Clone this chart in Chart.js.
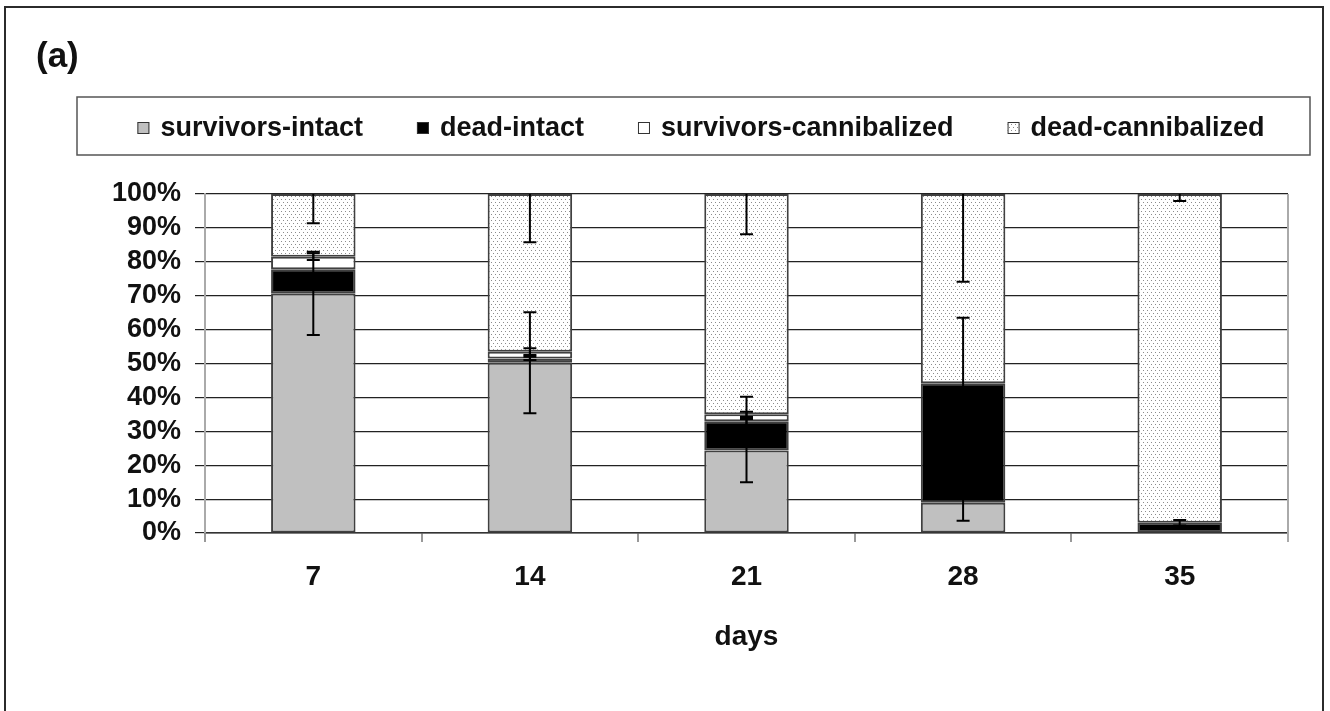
<!DOCTYPE html>
<html>
<head>
<meta charset="utf-8">
<script src="https://cdn.jsdelivr.net/npm/chart.js@4.4.1/dist/chart.umd.min.js"></script>
<style>
  html, body { margin: 0; padding: 0; background: #fff; }
  #wrap { width: 1330px; height: 711px; }
</style>
</head>
<body>
<div id="wrap"><canvas id="chart" width="1330" height="711"></canvas></div>
<script>
// values, % of individuals per day
const days = ['7', '14', '21', '28', '35'];
const survivorsIntact = [70.7, 50.2, 24.3, 8.9, 0];
const deadIntact = [7.1, 1.3, 8.7, 35.3, 3.0];
const survivorsCannibalized = [3.7, 2.0, 2.0, 0, 0];
const deadCannibalized = [18.5, 46.5, 65.0, 55.8, 97.0];

// error bar half-lengths (same units)
const survivorsIntactErr = [12.3, 14.9, 9.3, 5.3, 0];
const deadIntactErr = [0, 0.5, 7.2, 19.3, 0.8];
const survivorsCannibalizedErr = [1.0, 1.0, 0.8, 0, 0];
const deadCannibalizedErr = [8.6, 14.2, 11.9, 25.9, 2.1];

const FONT = '"Liberation Sans", Arial, sans-serif';

function dotPattern() {
    const c = document.createElement('canvas');
    c.width = 4; c.height = 6;
    const g = c.getContext('2d');
    g.fillStyle = '#fff';
    g.fillRect(0, 0, 4, 6);
    g.fillStyle = '#8c8c8c';
    g.fillRect(1, 1, 1, 1);
    g.fillRect(3, 4, 1, 1);
    return document.getElementById('chart').getContext('2d').createPattern(c, 'repeat');
}

const errorBars = {
    id: 'errorBars',
    afterDatasetsDraw(chart) {
        const { ctx, chartArea, scales: { y } } = chart;
        ctx.save();
        // gray line closing the plot on the right
        ctx.strokeStyle = '#aaa';
        ctx.lineWidth = 2;
        ctx.beginPath();
        ctx.moveTo(chartArea.right, chartArea.top);
        ctx.lineTo(chartArea.right, chartArea.bottom + 9);
        ctx.stroke();

        ctx.beginPath();
        ctx.rect(chartArea.left, chartArea.top, chartArea.right - chartArea.left, chartArea.bottom - chartArea.top);
        ctx.clip();
        ctx.strokeStyle = '#000';
        ctx.lineWidth = 2;
        const datasets = chart.data.datasets;
        datasets.forEach((ds, i) => {
            const meta = chart.getDatasetMeta(i);
            meta.data.forEach((bar, j) => {
                const err = ds.errors[j];
                if (!err) return;
                let cum = 0;
                for (let k = 0; k <= i; k++) cum += datasets[k].data[j];
                const yHi = y.getPixelForValue(cum + err);
                const yLo = y.getPixelForValue(cum - err);
                ctx.beginPath();
                ctx.moveTo(bar.x, yHi);
                ctx.lineTo(bar.x, yLo);
                ctx.moveTo(bar.x - 6.5, yHi);
                ctx.lineTo(bar.x + 6.5, yHi);
                ctx.moveTo(bar.x - 6.5, yLo);
                ctx.lineTo(bar.x + 6.5, yLo);
                ctx.stroke();
            });
        });
        ctx.restore();
    }
};

const frameAndLegend = {
    id: 'frameAndLegend',
    afterDraw(chart) {
        const ctx = chart.ctx;
        ctx.save();
        ctx.strokeStyle = '#2b2b2b';
        ctx.lineWidth = 2;
        ctx.strokeRect(5, 7, 1318, 720);

        ctx.fillStyle = '#111';
        ctx.textBaseline = 'middle';
        ctx.textAlign = 'left';
        ctx.font = 'bold 35px ' + FONT;
        ctx.fillText('(a)', 36, 57);

        // legend box
        ctx.strokeStyle = '#555';
        ctx.lineWidth = 1.5;
        ctx.strokeRect(77, 97, 1233, 58);

        ctx.font = 'bold 27px ' + FONT;
        const box = 12, textGap = 11, gap = 54;
        const items = chart.data.datasets.map(ds => ({
            label: ds.label,
            fill: ds.backgroundColor,
            w: box + textGap + ctx.measureText(ds.label).width
        }));
        const total = items.reduce((s, it) => s + it.w, 0) + gap * (items.length - 1);
        let x = 701 - total / 2;
        const cy = 128;
        items.forEach(it => {
            ctx.fillStyle = it.fill;
            ctx.fillRect(x, cy - box / 2, box, box);
            ctx.strokeStyle = '#333';
            ctx.lineWidth = 1;
            ctx.strokeRect(x + 0.5, cy - box / 2 + 0.5, box - 1, box - 1);
            ctx.fillStyle = '#111';
            ctx.fillText(it.label, x + box + textGap, cy + 1);
            x += it.w + gap;
        });
        ctx.restore();
    }
};

const barStyle = { borderColor: '#404040', borderWidth: 2, borderSkipped: false };

new Chart(document.getElementById('chart'), {
    type: 'bar',
    data: {
        labels: days,
        datasets: [
            { label: 'survivors-intact', data: survivorsIntact, errors: survivorsIntactErr, backgroundColor: '#c0c0c0', ...barStyle },
            { label: 'dead-intact', data: deadIntact, errors: deadIntactErr, backgroundColor: '#000', ...barStyle },
            { label: 'survivors-cannibalized', data: survivorsCannibalized, errors: survivorsCannibalizedErr, backgroundColor: '#fff', ...barStyle },
            { label: 'dead-cannibalized', data: deadCannibalized, errors: deadCannibalizedErr, backgroundColor: dotPattern(), ...barStyle }
        ]
    },
    options: {
        responsive: false,
        animation: false,
        events: [],
        layout: { padding: { top: 194, left: 10, right: 42, bottom: 57 } },
        categoryPercentage: 1,
        barPercentage: 0.39,
        plugins: {
            legend: { display: false },
            title: { display: false },
            tooltip: { enabled: false }
        },
        scales: {
            x: {
                stacked: true,
                afterFit(scale) { scale.height = 121; },
                grid: { offset: true, drawOnChartArea: false, tickLength: 9, color: '#999', lineWidth: 2 },
                border: { color: '#333', width: 1.5 },
                ticks: { color: '#111', padding: 18, font: { family: FONT, size: 28, weight: 'bold' } },
                title: {
                    display: true, text: 'days', color: '#111', padding: { top: 0, bottom: 0 },
                    font: { family: FONT, size: 28, weight: 'bold' }
                }
            },
            y: {
                stacked: true,
                min: 0,
                max: 100,
                afterFit(scale) { scale.width = 195; },
                grid: { color: '#222', lineWidth: 1.2, tickLength: 10 },
                border: { color: '#aaa', width: 2 },
                ticks: {
                    stepSize: 10,
                    autoSkip: false,
                    padding: 14,
                    color: '#111',
                    font: { family: FONT, size: 27, weight: 'bold' },
                    callback: v => v + '%'
                }
            }
        }
    },
    plugins: [errorBars, frameAndLegend]
});
</script>
</body>
</html>
